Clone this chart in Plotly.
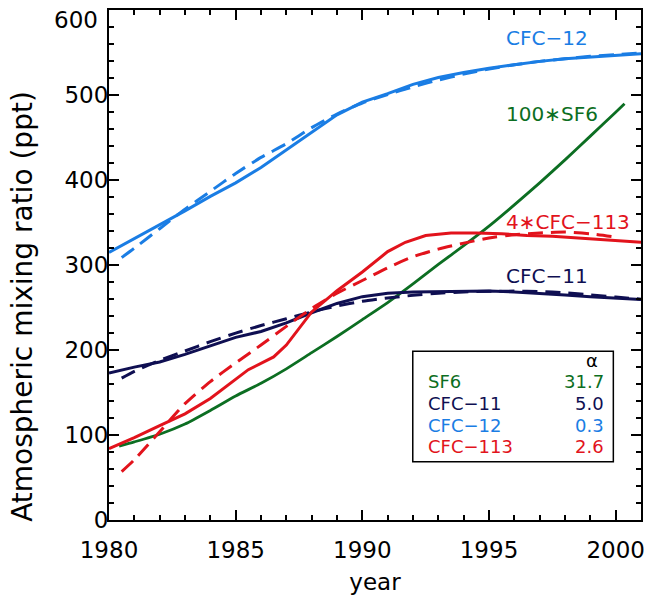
import plotly.graph_objects as go

# ---- data ----
cfc12_obs_years = [1980, 1981, 1982, 1983, 1984, 1985, 1986, 1987, 1988, 1989, 1990,
                   1991, 1992, 1993, 1994, 1995, 1996, 1997, 1998, 1999, 2000, 2001]
cfc12_obs = [315, 331, 347, 364, 381, 397, 415, 436, 457, 477, 492,
             502, 513, 521, 527, 532, 536, 540, 543, 545, 547, 549]

cfc12_mod_years = [1980.5, 1981, 1982, 1983, 1984, 1985, 1986, 1987, 1988, 1989, 1990,
                   1991, 1992, 1993, 1994, 1995, 1996, 1997, 1998, 1999, 2000, 2001]
cfc12_mod = [309, 320, 343, 366, 387, 408, 427, 443, 462, 478, 491,
             501, 510, 518, 525, 531, 536, 540, 543, 546, 548, 550]

cfc11_obs_years = [1980, 1981, 1982, 1983, 1984, 1985, 1986, 1987, 1988, 1989, 1990,
                   1991, 1992, 1993, 1994, 1995, 1996, 1997, 1998, 1999, 2000, 2001]
cfc11_obs = [173, 180, 186, 195, 205, 215, 222, 232, 244, 255, 263,
             267, 268.5, 269, 269.5, 269.5, 268.5, 267, 265, 263, 261, 259.5]

cfc11_mod_years = [1980.5, 1981, 1982, 1983, 1984, 1985, 1986, 1987, 1988, 1989, 1990,
                   1991, 1992, 1993, 1994, 1995, 1996, 1997, 1998, 1999, 2000, 2001]
cfc11_mod = [167, 175, 188, 199, 210, 220, 229, 237, 245, 252, 257.5,
             261.5, 264.5, 267, 268.5, 269.3, 269.5, 269, 267.5, 265, 262.5, 260]

cfc113_obs_years = [1980, 1981, 1982, 1983, 1984, 1985, 1985.5, 1986.5, 1987, 1988, 1989,
                    1990, 1991, 1991.7, 1992.5, 1993.5, 1994.5, 1995.5, 1996.5, 1997.5,
                    1998.5, 1999.5, 2000.5, 2001]
cfc113_obs_x4 = [84, 97, 111, 125, 143, 165, 177, 192, 206, 245, 270,
                 292, 316, 327, 335, 338, 338, 337, 335, 334,
                 332, 330, 328, 327]

cfc113_mod_years = [1980.5, 1981, 1982, 1983, 1984, 1985, 1986, 1987, 1988, 1989, 1990,
                    1991, 1992, 1993, 1994, 1995, 1996, 1997, 1998, 1999, 2000]
cfc113_mod_x4 = [57, 71, 104, 137, 163, 185, 206, 228, 249, 267, 282,
                 297, 310, 319, 326, 332, 336, 338, 339, 337, 333]

sf6_years = [1980.4, 1981, 1982, 1983, 1984, 1985, 1986, 1987, 1988, 1989, 1990,
             1991, 1992, 1993, 1994, 1995, 1996, 1997, 1998, 1999, 2000, 2000.35]
sf6_x100 = [87, 92, 101, 113, 129, 146, 161, 178, 197, 216, 236,
            256, 278, 301, 323, 346, 371, 397, 424, 452, 480, 490]

x_tick_vals = [1980, 1985, 1990, 1995, 2000]
y_tick_vals = [0, 100, 200, 300, 400, 500, 600]
y_tick_text = ["0", "100", "200", "300", "400", "500", ""]  # top label drawn below
y_top_label = "600"

gas_names = ["SF6", "CFC−11", "CFC−12", "CFC−113"]
alpha_values = ["31.7", "5.0", "0.3", "2.6"]

# ---- styles ----
GREEN = "#0c6e22"
NAVY = "#0f0f52"
BLUE = "#1a7de4"
RED = "#e2131c"
gas_colors = [GREEN, NAVY, BLUE, RED]
FONT = "DejaVu Sans"
DASH = "15px,8px"

fig = go.Figure()


def add(x, y, color, dash=None, smooth=False, width=3):
    fig.add_trace(go.Scatter(
        x=x, y=y, mode="lines", showlegend=False, hoverinfo="skip",
        line=dict(color=color, width=width, dash=dash,
                  shape="spline" if smooth else "linear",
                  smoothing=0.6 if smooth else None),
    ))


add(sf6_years, sf6_x100, GREEN, smooth=True, width=2.8)
add(cfc11_mod_years, cfc11_mod, NAVY, dash=DASH, smooth=True)
add(cfc11_obs_years, cfc11_obs, NAVY)
add(cfc12_mod_years, cfc12_mod, BLUE, dash=DASH, smooth=True)
add(cfc12_obs_years, cfc12_obs, BLUE)
add(cfc113_mod_years, cfc113_mod_x4, RED, dash=DASH, smooth=True)
add(cfc113_obs_years, cfc113_obs_x4, RED)

# curve labels
curve_labels = [
    ("CFC−12", 568, BLUE),
    ("100∗SF6", 478, GREEN),
    ("4∗CFC−113", 351, RED),
    ("CFC−11", 287, NAVY),
]
for txt, yv, col in curve_labels:
    fig.add_annotation(x=1995.6, y=yv, xref="x", yref="y", text=txt,
                       showarrow=False, xanchor="left", yanchor="middle",
                       font=dict(family=FONT, size=20, color=col))

# alpha box
fig.add_shape(type="rect", xref="paper", yref="paper",
              x0=0.571, x1=0.948, y0=0.114, y1=0.331,
              line=dict(color="black", width=1.5), fillcolor="white", layer="above")
fig.add_annotation(x=0.907, y=0.312, xref="paper", yref="paper", text="α",
                   showarrow=False, xanchor="center", yanchor="middle",
                   font=dict(family=FONT, size=18, color="black"))
row_y = [0.271, 0.229, 0.186, 0.144]
for name, a, col, yy in zip(gas_names, alpha_values, gas_colors, row_y):
    fig.add_annotation(x=0.596, y=yy, xref="paper", yref="paper", text=name,
                       showarrow=False, xanchor="left", yanchor="middle",
                       font=dict(family=FONT, size=18, color=col))
    fig.add_annotation(x=0.934, y=yy, xref="paper", yref="paper", text=a,
                       showarrow=False, xanchor="right", yanchor="middle",
                       font=dict(family=FONT, size=18, color=col))

# top y tick label, nudged down inside the page as in the reference
fig.add_annotation(x=0, y=y_tick_vals[-1], xref="paper", yref="y", text=y_top_label,
                   showarrow=False, xanchor="right", yanchor="middle",
                   xshift=-9, yshift=-10,
                   font=dict(family=FONT, size=23, color="black"))

# y title
fig.add_annotation(x=0, y=0.418, xref="paper", yref="paper", xshift=-86,
                   text="Atmospheric mixing ratio (ppt)", textangle=-90,
                   showarrow=False, xanchor="center", yanchor="middle",
                   font=dict(family=FONT, size=28, color="black"))

axis_common = dict(
    showline=True, linecolor="black", linewidth=2, mirror="ticks",
    ticks="inside", ticklen=10, tickwidth=1.5, tickcolor="black",
    showgrid=False, zeroline=False, automargin=False,
    ticklabeloverflow="allow",
    tickfont=dict(family=FONT, size=23, color="black"),
)

fig.update_layout(
    width=647, height=600,
    margin=dict(l=109, r=6, t=10, b=80),
    paper_bgcolor="white", plot_bgcolor="white",
    xaxis=dict(range=[1980, 2001], tickvals=x_tick_vals,
               minor=dict(dtick=1, tick0=1980, ticks="inside", ticklen=5,
                          tickwidth=1.5, tickcolor="black"),
               ticklabelstandoff=8,
               title=dict(text="year", font=dict(family=FONT, size=23, color="black"),
                          standoff=12),
               **axis_common),
    yaxis=dict(range=[0, 600.5], tickvals=y_tick_vals, ticktext=y_tick_text,
               minor=dict(dtick=20, tick0=0, ticks="inside", ticklen=5,
                          tickwidth=1.5, tickcolor="black"),
               ticklabelstandoff=-6,
               **axis_common),
)

fig.write_html("out.html",
               config={"displayModeBar": False},
               post_script="document.body.style.margin='0';"
                           "document.body.style.overflow='hidden';")
